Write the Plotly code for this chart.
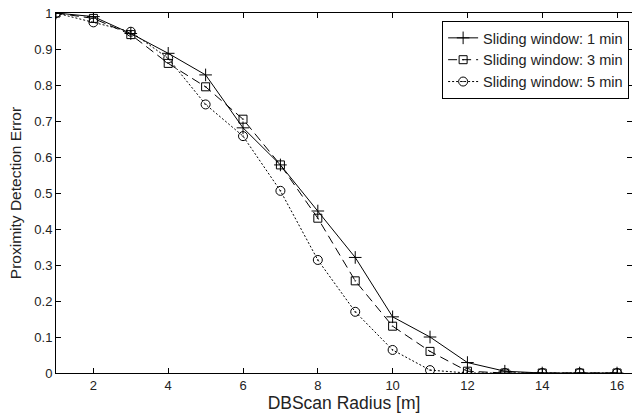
import plotly.graph_objects as go

radius = list(range(1, 17))
win1 = [1.0, 0.99, 0.943, 0.888, 0.828, 0.681, 0.578, 0.45, 0.321, 0.156, 0.10, 0.029, 0.005, 0.0, 0.0, 0.0]
win3 = [1.0, 0.985, 0.94, 0.86, 0.795, 0.705, 0.578, 0.43, 0.256, 0.13, 0.06, 0.005, 0.0, 0.0, 0.0, 0.0]
win5 = [1.0, 0.974, 0.948, 0.874, 0.746, 0.658, 0.506, 0.314, 0.17, 0.064, 0.008, 0.0, 0.0, 0.0, 0.0, 0.0]
names = ["Sliding window: 1 min", "Sliding window: 3 min", "Sliding window: 5 min"]
x_ticks = [2, 4, 6, 8, 10, 12, 14, 16]
y_ticks = [0, 0.1, 0.2, 0.3, 0.4, 0.5, 0.6, 0.7, 0.8, 0.9, 1]
y_labels = ["0", "0.1", "0.2", "0.3", "0.4", "0.5", "0.6", "0.7", "0.8", "0.9", "1"]

FONT = "Liberation Sans, Arial, sans-serif"
TXT = "#222"

fig = go.Figure()
fig.add_trace(go.Scatter(x=radius, y=win1, name=names[0], mode="lines+markers",
                         line=dict(color="black", width=1, dash="solid"),
                         marker=dict(symbol="cross-thin", size=9, color="black",
                                     line=dict(color="black", width=1))))
fig.add_trace(go.Scatter(x=radius, y=win3, name=names[1], mode="lines+markers",
                         line=dict(color="black", width=1, dash="9px,5px"),
                         marker=dict(symbol="square-open-dot", size=8, color="black",
                                     line=dict(color="black", width=1))))
fig.add_trace(go.Scatter(x=radius, y=win5, name=names[2], mode="lines+markers",
                         line=dict(color="black", width=1, dash="2px,2px"),
                         marker=dict(symbol="circle-open-dot", size=9, color="black",
                                     line=dict(color="black", width=1))))

axis_common = dict(showline=True, linecolor="black", linewidth=1, mirror="ticks",
                   ticks="inside", ticklen=5, tickcolor="black", showgrid=False,
                   zeroline=False, tickfont=dict(family=FONT, size=13, color=TXT))

fig.update_xaxes(range=[1, 16.4], tickvals=x_ticks,
                 title=dict(text="DBScan Radius [m]", standoff=2,
                            font=dict(family=FONT, size=17.5, color=TXT)),
                 **axis_common)
fig.update_yaxes(range=[0, 1], tickvals=y_ticks, ticktext=y_labels,
                 title=dict(text="Proximity Detection Error", standoff=8,
                            font=dict(family=FONT, size=15.5, color=TXT)),
                 **axis_common)

fig.update_layout(
    width=632, height=417,
    margin=dict(l=56, r=0, t=13, b=44),
    plot_bgcolor="white", paper_bgcolor="white",
    font=dict(family=FONT, color=TXT),
    legend=dict(x=0.995, y=0.978, xanchor="right", yanchor="top",
                bordercolor="black", borderwidth=1, bgcolor="white",
                font=dict(size=14.5, family=FONT, color=TXT), tracegroupgap=0, itemwidth=30),
    showlegend=True,
)

fig.write_html("out.html", config={"displayModeBar": False},
               post_script="document.body.style.margin='0';document.body.style.overflow='hidden';")
